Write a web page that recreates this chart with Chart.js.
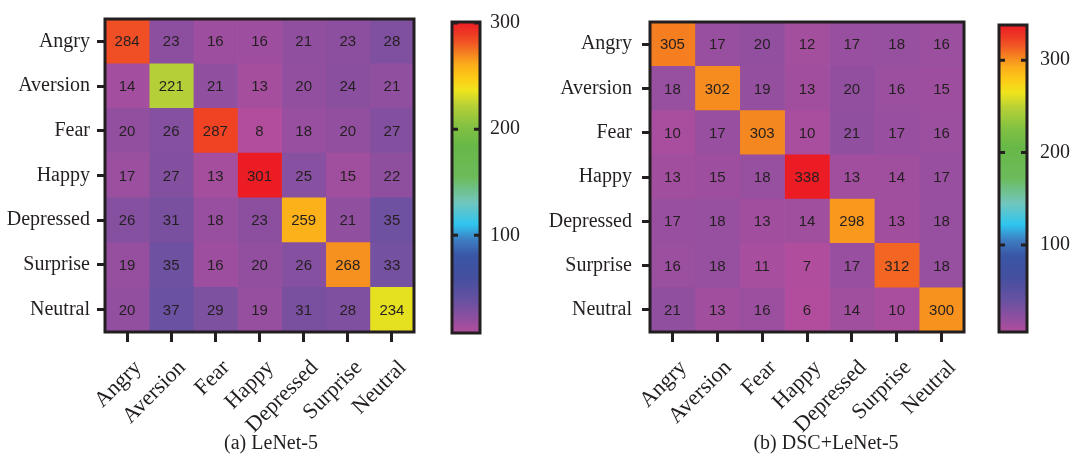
<!DOCTYPE html>
<html>
<head>
<meta charset="utf-8">
<script src="https://cdn.jsdelivr.net/npm/chart.js@4.4.0/dist/chart.umd.min.js"></script>
<style>
	body { margin: 0; background: #fff; }
	#page { position: relative; width: 1075px; height: 457px; overflow: hidden; background: #fff; }
	canvas { position: absolute; top: 0; }
	.caption { position: absolute; top: 431px; font: 20px "Liberation Serif", "Times New Roman", serif; color: #231f20; transform: translateX(-50%); white-space: nowrap; }
</style>
</head>
<body>
<div id="page">
	<canvas id="heatA" width="440" height="457" style="left:0"></canvas>
	<canvas id="barA" width="100" height="457" style="left:440px"></canvas>
	<canvas id="heatB" width="450" height="457" style="left:540px"></canvas>
	<canvas id="barB" width="85" height="457" style="left:990px"></canvas>
	<div class="caption" style="left:271px">(a) LeNet-5</div>
	<div class="caption" style="left:826px">(b) DSC+LeNet-5</div>
</div>
<script>
// class names, used for rows (true) and columns (predicted)
const emotions = ['Angry', 'Aversion', 'Fear', 'Happy', 'Depressed', 'Surprise', 'Neutral'];

// confusion matrix of LeNet-5, one array per row
const lenetCounts = [
	[284, 23, 16, 16, 21, 23, 28],
	[14, 221, 21, 13, 20, 24, 21],
	[20, 26, 287, 8, 18, 20, 27],
	[17, 27, 13, 301, 25, 15, 22],
	[26, 31, 18, 23, 259, 21, 35],
	[19, 35, 16, 20, 26, 268, 33],
	[20, 37, 29, 19, 31, 28, 234]
];

// confusion matrix of DSC+LeNet-5
const dscCounts = [
	[305, 17, 20, 12, 17, 18, 16],
	[18, 302, 19, 13, 20, 16, 15],
	[10, 17, 303, 10, 21, 17, 16],
	[13, 15, 18, 338, 13, 14, 17],
	[17, 18, 13, 14, 298, 13, 18],
	[16, 18, 11, 7, 17, 312, 18],
	[21, 13, 16, 6, 14, 10, 300]
];

// colorbar tick labels
const colorbarTicks = [100, 200, 300];

const ink = '#231f20';
const serif = '"Liberation Serif", "Times New Roman", serif';

// colormap, position 0..1 -> colour
const rainbow = [
	[0.00, '#b24d9d'],
	[0.04, '#944f9f'],
	[0.10, '#6a51a1'],
	[0.18, '#434f9f'],
	[0.25, '#3a56a6'],
	[0.30, '#3d7ec2'],
	[0.35, '#2fc5ef'],
	[0.42, '#72c6bc'],
	[0.50, '#6cbb5c'],
	[0.60, '#67b848'],
	[0.66, '#80c042'],
	[0.73, '#b6d036'],
	[0.78, '#efe41d'],
	[0.82, '#fdcb17'],
	[0.86, '#fbb01a'],
	[0.89, '#f68d1f'],
	[0.93, '#f15a24'],
	[0.96, '#ee3b24'],
	[1.00, '#ec1c24']
];

function hexToRgb(h)
{
	return [1, 3, 5].map(i => parseInt(h.substr(i, 2), 16));
}

function colorAt(f)
{
	f = Math.max(0, Math.min(1, f));
	for (let k = 1; k < rainbow.length; k++) {
		if (f <= rainbow[k][0]) {
			const a = rainbow[k - 1], b = rainbow[k];
			const t = (f - a[0]) / (b[0] - a[0]);
			const ca = hexToRgb(a[1]), cb = hexToRgb(b[1]);
			const c = ca.map((v, i) => Math.round(v + (cb[i] - v) * t));
			return `rgb(${c[0]}, ${c[1]}, ${c[2]})`;
		}
	}
	return rainbow[rainbow.length - 1][1];
}

// black box round the plot area
const frame = {
	id: 'frame',
	afterDraw(chart)
	{
		const a = chart.chartArea;
		const ctx = chart.ctx;
		ctx.save();
		ctx.strokeStyle = ink;
		ctx.lineWidth = 3;
		ctx.strokeRect(a.left, a.top, a.right - a.left, a.bottom - a.top);
		ctx.restore();
	}
};

// numbers in the cells
const cellLabels = {
	id: 'cellLabels',
	afterDatasetsDraw(chart)
	{
		const ctx = chart.ctx;
		ctx.save();
		ctx.font = '15px "Liberation Sans", Arial, sans-serif';
		ctx.fillStyle = ink;
		ctx.textAlign = 'center';
		ctx.textBaseline = 'middle';
		chart.data.datasets.forEach((ds, j) => {
			chart.getDatasetMeta(j).data.forEach((bar, i) => {
				const c = bar.getCenterPoint();
				ctx.fillText(ds.counts[i], c.x, c.y + 1);
			});
		});
		ctx.restore();
	}
};

// little ticks inside both edges of the colorbar
const innerTicks = {
	id: 'innerTicks',
	afterDraw(chart)
	{
		const a = chart.chartArea;
		const y = chart.scales.y;
		const ctx = chart.ctx;
		ctx.save();
		ctx.strokeStyle = ink;
		ctx.lineWidth = 3;
		colorbarTicks.forEach(v => {
			if (v < y.min || v > y.max) return;
			const p = y.getPixelForValue(v);
			ctx.beginPath();
			ctx.moveTo(a.left, p); ctx.lineTo(a.left + 6, p);
			ctx.moveTo(a.right - 6, p); ctx.lineTo(a.right, p);
			ctx.stroke();
		});
		ctx.restore();
	}
};

function heatmap(canvasId, counts, geom)
{
	const all = counts.flat();
	const lo = Math.min(...all), hi = Math.max(...all);

	// one stacked dataset per predicted column, each cell one unit wide
	const datasets = emotions.map((name, col) => ({
		label: name,
		data: counts.map(() => 1),
		counts: counts.map(row => row[col]),
		backgroundColor: counts.map(row => colorAt((row[col] - lo) / (hi - lo))),
		borderWidth: 0,
		barPercentage: 1,
		categoryPercentage: 1
	}));

	return new Chart(document.getElementById(canvasId), {
		type: 'bar',
		data: { labels: emotions, datasets: datasets },
		options: {
			indexAxis: 'y',
			responsive: false,
			animation: false,
			layout: { padding: { top: geom.top, right: geom.right, left: 0, bottom: 0 } },
			plugins: { legend: { display: false }, tooltip: { enabled: false } },
			scales: {
				x: {
					type: 'linear',
					stacked: true,
					min: 0,
					max: emotions.length,
					afterBuildTicks: s => { s.ticks = emotions.map((_, i) => ({ value: i + 0.5 })); },
					afterFit: s => { s.height = 457 - geom.bottom; },
					ticks: {
						autoSkip: false,
						minRotation: 45,
						maxRotation: 45,
						padding: 13,
						labelOffset: 11,
						color: ink,
						font: { family: serif, size: 22 },
						callback: (v, i) => emotions[i]
					},
					grid: { drawOnChartArea: false, tickLength: 10, lineWidth: 3, color: ink },
					border: { display: false }
				},
				y: {
					stacked: true,
					afterFit: s => { s.width = geom.left; },
					ticks: { padding: geom.pad, color: ink, font: { family: serif, size: 20 } },
					grid: { drawOnChartArea: false, offset: false, tickLength: 8, lineWidth: 3, color: ink },
					border: { display: false }
				}
			}
		},
		plugins: [cellLabels, frame]
	});
}

function colorbar(canvasId, counts, geom)
{
	const all = counts.flat();
	const lo = Math.min(...all), hi = Math.max(...all);

	return new Chart(document.getElementById(canvasId), {
		type: 'bar',
		data: {
			labels: [''],
			datasets: [{
				data: [[lo, hi]],
				borderWidth: 0,
				barPercentage: 1,
				categoryPercentage: 1,
				backgroundColor: (c) =>
				{
					const a = c.chart.chartArea;
					if (!a) return null;
					const g = c.chart.ctx.createLinearGradient(0, a.bottom, 0, a.top);
					rainbow.forEach(s => g.addColorStop(s[0], s[1]));
					return g;
				}
			}]
		},
		options: {
			responsive: false,
			animation: false,
			layout: { padding: { left: geom.left, top: geom.top, bottom: geom.bottom, right: 0 } },
			plugins: { legend: { display: false }, tooltip: { enabled: false } },
			scales: {
				x: { display: false },
				y: {
					position: 'right',
					min: lo,
					max: hi,
					afterBuildTicks: s => { s.ticks = colorbarTicks.filter(v => v >= lo && v <= hi).map(v => ({ value: v })); },
					afterFit: s => { s.width = geom.width; },
					ticks: { padding: geom.pad, color: ink, font: { family: serif, size: 20 } },
					grid: { display: false, drawTicks: false },
					border: { display: false }
				}
			}
		},
		plugins: [frame, innerTicks]
	});
}

function main()
{
	heatmap('heatA', lenetCounts, { left: 105, right: 26, top: 14, bottom: 332, pad: 7 });
	colorbar('barA', lenetCounts, { left: 12, top: 15, bottom: 124, width: 60, pad: 10 });
	heatmap('heatB', dscCounts, { left: 110, right: 26, top: 13, bottom: 332, pad: 10 });
	colorbar('barB', dscCounts, { left: 9, top: 13, bottom: 125, width: 48, pad: 13 });
}

main();
</script>
</body>
</html>
